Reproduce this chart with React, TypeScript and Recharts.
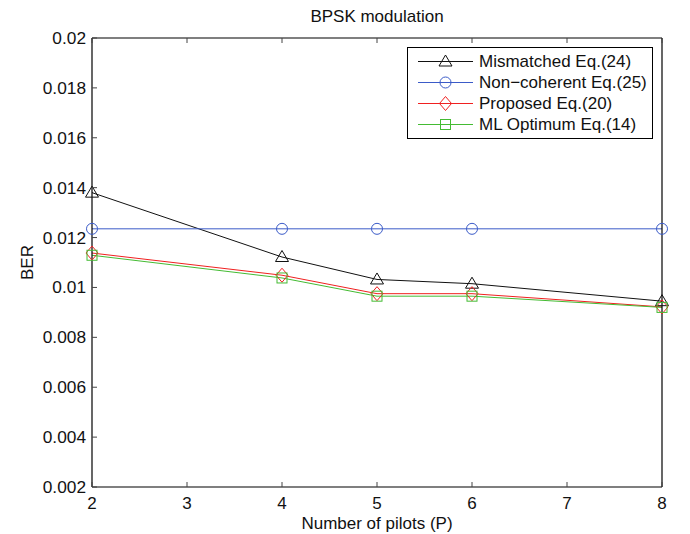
import React from 'react';
import { LineChart, Line, XAxis, YAxis, Legend } from 'recharts';

const FONT = '"Liberation Sans", Arial, Helvetica, sans-serif';

// number of pilots (x) and BER for each curve
const pilots = [2, 4, 5, 6, 8];
const mismatched = [0.0138, 0.01122, 0.01032, 0.01015, 0.00945];
const nonCoherent = [0.01235, 0.01235, 0.01235, 0.01235, 0.01235];
const proposed = [0.01138, 0.01049, 0.00975, 0.00975, 0.00922];
const mlOptimum = [0.01129, 0.01038, 0.00965, 0.00965, 0.0092];

const xTicks = [2, 3, 4, 5, 6, 7, 8];
const yTicks = [0.002, 0.004, 0.006, 0.008, 0.01, 0.012, 0.014, 0.016, 0.018, 0.02];

const series = [
  { key: 'mismatched', name: 'Mismatched Eq.(24)', color: '#111111', shape: 'triangle' },
  { key: 'nonCoherent', name: 'Non\u2212coherent Eq.(25)', color: '#3b5bc8', shape: 'circle' },
  { key: 'proposed', name: 'Proposed Eq.(20)', color: '#f02020', shape: 'diamond' },
  { key: 'mlOptimum', name: 'ML Optimum Eq.(14)', color: '#44bb33', shape: 'square' },
];

const data = pilots.map((p, i) => ({
  p,
  mismatched: mismatched[i],
  nonCoherent: nonCoherent[i],
  proposed: proposed[i],
  mlOptimum: mlOptimum[i],
}));

const Marker = ({ shape, cx, cy, color }: any) => {
  const common = { fill: 'none', stroke: color, strokeWidth: 1 };
  if (shape === 'triangle')
    return <polygon {...common} points={`${cx},${cy - 6.5} ${cx + 6.5},${cy + 4.5} ${cx - 6.5},${cy + 4.5}`} />;
  if (shape === 'circle') return <circle {...common} cx={cx} cy={cy} r={5.5} />;
  if (shape === 'diamond')
    return <polygon {...common} points={`${cx},${cy - 7} ${cx + 6},${cy} ${cx},${cy + 7} ${cx - 6},${cy}`} />;
  return <rect {...common} x={cx - 5} y={cy - 5} width={10} height={10} />;
};

const BottomTick = ({ x, y, payload }: any) => (
  <g>
    <line x1={x} y1={y} x2={x} y2={y - 5} stroke="#444" />
    <text x={x} y={y + 22} textAnchor="middle" fontSize={17} fontFamily={FONT} fill="#111">
      {payload.value}
    </text>
  </g>
);

const TopTick = ({ x, y }: any) => <line x1={x} y1={y} x2={x} y2={y + 5} stroke="#444" />;

const LeftTick = ({ x, y, payload }: any) => (
  <g>
    <line x1={x} y1={y} x2={x + 5} y2={y} stroke="#444" />
    <text x={x - 6} y={y + 6} textAnchor="end" fontSize={17.3} fontFamily={FONT} fill="#111">
      {payload.value}
    </text>
  </g>
);

const RightTick = ({ x, y }: any) => <line x1={x} y1={y} x2={x - 5} y2={y} stroke="#444" />;

const LegendBox = () => (
  <div
    style={{
      border: '1px solid #000',
      background: '#fff',
      padding: '3px 0',
      fontFamily: FONT,
      fontSize: 17,
      color: '#111',
    }}
  >
    {series.map((s) => (
      <div key={s.key} style={{ display: 'flex', alignItems: 'center', height: 21 }}>
        <svg width={71} height={21}>
          <line x1={10} y1={10.5} x2={65} y2={10.5} stroke={s.color} />
          <Marker shape={s.shape} cx={37.5} cy={10.5} color={s.color} />
        </svg>
        <span style={{ whiteSpace: 'nowrap' }}>{s.name}</span>
      </div>
    ))}
  </div>
);

export default function App() {
  return (
    <div style={{ position: 'absolute', left: 0, top: 0, background: '#fff' }}>
      <LineChart width={690} height={534} data={data} margin={{ top: 0, right: 0, bottom: 0, left: 0 }}>
        <XAxis
          dataKey="p"
          type="number"
          domain={[2, 8]}
          ticks={xTicks}
          interval={0}
          height={47}
          tickSize={0}
          tickMargin={0}
          tick={<BottomTick />}
          axisLine={{ stroke: '#000', strokeWidth: 1.2 }}
          label={{ value: 'Number of pilots (P)', position: 'insideBottom', offset: 5, fontSize: 17, fill: '#111', fontFamily: FONT }}
        />
        <XAxis
          xAxisId="top"
          orientation="top"
          dataKey="p"
          type="number"
          domain={[2, 8]}
          ticks={xTicks}
          interval={0}
          height={38}
          tickSize={0}
          tickMargin={0}
          tick={<TopTick />}
          axisLine={{ stroke: '#000', strokeWidth: 1.2 }}
          label={{ value: 'BPSK modulation', position: 'insideTop', offset: 10, fontSize: 17, fill: '#111', fontFamily: FONT }}
        />
        <YAxis
          type="number"
          domain={[0.002, 0.02]}
          ticks={yTicks}
          interval={0}
          width={92}
          tickSize={0}
          tickMargin={0}
          tick={<LeftTick />}
          axisLine={{ stroke: '#000', strokeWidth: 1.2 }}
          label={{ value: 'BER', angle: -90, position: 'insideLeft', offset: 27, fontSize: 17, fill: '#111', fontFamily: FONT, style: { textAnchor: 'middle' } }}
        />
        <YAxis
          yAxisId="right"
          orientation="right"
          type="number"
          domain={[0.002, 0.02]}
          ticks={yTicks}
          interval={0}
          width={28}
          tickSize={0}
          tickMargin={0}
          tick={<RightTick />}
          axisLine={{ stroke: '#000', strokeWidth: 1.2 }}
        />
        {series.map((s) => (
          <Line
            key={s.key}
            dataKey={s.key}
            name={s.name}
            stroke={s.color}
            strokeWidth={1}
            isAnimationActive={false}
            dot={(props: any) => (
              <Marker key={`${s.key}-${props.index}`} shape={s.shape} cx={props.cx} cy={props.cy} color={s.color} />
            )}
            activeDot={false}
          />
        ))}
        <Legend
          layout="vertical"
          align="center"
          verticalAlign="middle"
          content={() => <LegendBox />}
          wrapperStyle={{ left: 407, top: 47, width: 246 }}
        />
      </LineChart>
    </div>
  );
}
